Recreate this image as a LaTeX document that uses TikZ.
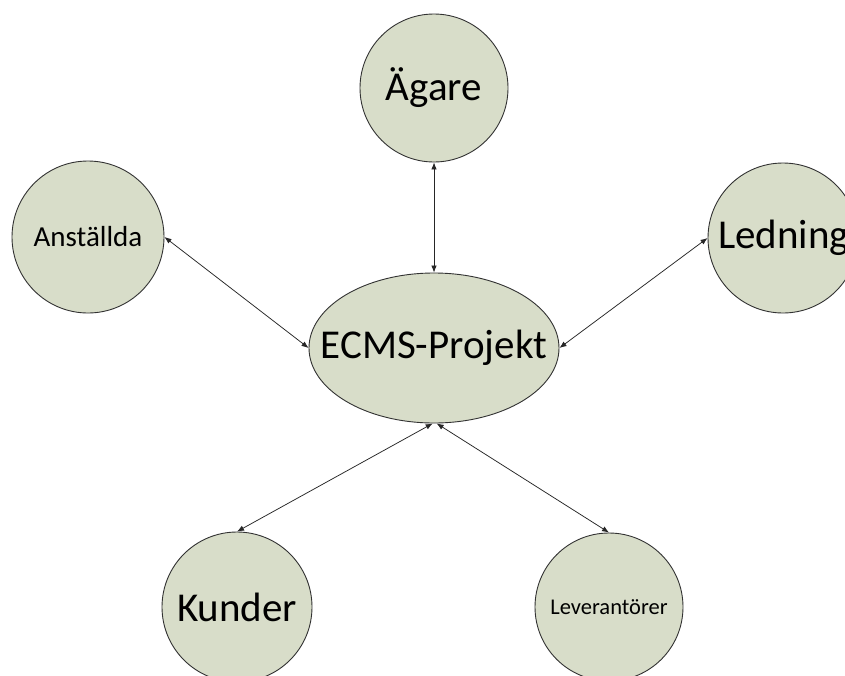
\documentclass[tikz,border=0pt]{standalone}
\usepackage{fontspec}
\setmainfont{Carlito}
\usetikzlibrary{shapes.geometric,arrows.meta}
\definecolor{bubble}{RGB}{216,221,201}
\definecolor{rim}{RGB}{50,50,50}
\tikzset{
  stakeholder/.style={circle,draw=rim,line width=0.9pt,fill=bubble,inner sep=0pt,minimum size=#1},
  project/.style={ellipse,draw=rim,line width=0.9pt,fill=bubble,inner sep=0pt,minimum width=250pt,minimum height=150pt},
  link/.style={line width=0.75pt,draw=black!85,{Latex[length=7pt,width=5.5pt]}-{Latex[length=7pt,width=5.5pt]}},
  bigtext/.style={font=\fontsize{41}{41}\selectfont},
  midtext/.style={font=\fontsize{29}{29}\selectfont},
  smalltext/.style={font=\fontsize{22.5}{22.5}\selectfont}
}
\newcommand{\zw}[1]{\makebox[0pt][c]{#1}}
\begin{document}
\begin{tikzpicture}[x=1pt,y=-1pt]
  \useasboundingbox (0,0) rectangle (845,675);
  \clip (0,0) rectangle (845,675);
  \fill[white] (0,0) rectangle (845,675);

  \node[project,bigtext] (ecms) at (434,348) {\zw{ECMS-Projekt}};
  \node[stakeholder=148pt,bigtext] (agare) at (434,88) {\zw{Ägare}};
  \node[stakeholder=152pt,midtext] (anst) at (88,237) {\zw{Anställda}};
  \node[stakeholder=150pt,bigtext] (led) at (783,238) {\makebox[0pt][l]{\hspace{-65pt}Ledning}};
  \node[stakeholder=150pt,bigtext] (kund) at (237,607) {\zw{Kunder}};
  \node[stakeholder=148pt,smalltext] (lev) at (609,607) {\zw{Leverantörer}};

  \draw[link] (agare.south) -- (ecms.north);
  \draw[link] (anst.east) -- (ecms.west);
  \draw[link] (led.west) -- (ecms.east);
  \draw[link] (kund.north) -- (ecms.-91.5);
  \draw[link] (lev.north) -- (ecms.-88.5);
\end{tikzpicture}
\end{document}
